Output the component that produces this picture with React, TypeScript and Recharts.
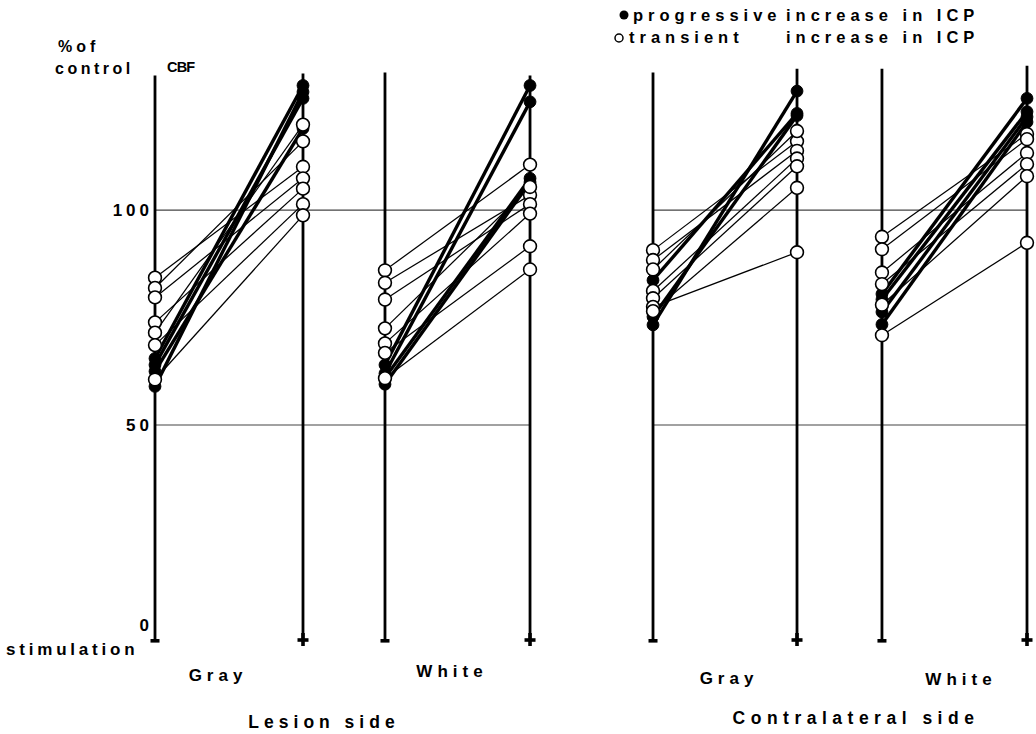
import React from 'react';
import { ComposedChart, Scatter, XAxis, YAxis, ReferenceLine } from 'recharts';

const CHART_W = 1036;
const CHART_H = 734;
const FONT = "'Liberation Sans', Arial, Helvetica, sans-serif";

// x position of each stimulation column, in units of the -/+ spacing
const columnPos = [0, 1, 1.554, 2.534, 3.365, 4.338, 4.912, 5.892];
const columnSign = ['-', '+', '-', '+', '-', '+', '-', '+'];
// top end (in % of control) of each vertical column line
const columnTop = [131.3, 131.8, 132, 131.3, 132, 132.9, 132.9, 133.6];
const yTicks = [0, 50, 100];
const gridValues = [100, 50];

// Lesion side, gray matter: CBF (% of control) without (-) and with (+) stimulation
const lgOpenOff = [84.3, 81.9, 79.7, 73.9, 71.5, 68.6, 60.6];
const lgOpenOn = [110.1, 116.0, 107.4, 105.0, 119.9, 101.4, 98.8];
const lgFillOff = [65.5, 64.0, 62.5, 59.0];
const lgFillOn = [129.0, 126.0, 119.0, 127.5];

// Lesion side, white matter
const lwOpenOff = [86.0, 83.1, 79.2, 72.5, 69.0, 66.8, 60.9];
const lwOpenOn = [110.6, 103.5, 101.4, 105.4, 99.2, 91.6, 86.2];
const lwFillOff = [64.0, 62.0, 61.0, 59.5];
const lwFillOn = [129.0, 125.2, 107.4, 106.5];

// Contralateral side, gray matter
const cgOpenOff = [90.7, 88.4, 86.2, 81.2, 79.5, 77.5, 76.5];
const cgOpenOn = [116.0, 113.8, 118.4, 112.0, 110.2, 90.2, 105.2];
const cgFillOff = [83.7, 75.2, 73.3];
const cgFillOn = [122.5, 122.0, 127.7];

// Contralateral side, white matter
const cwOpenOff = [93.8, 90.9, 85.5, 82.8, 78.0, 70.9];
const cwOpenOn = [117.7, 116.5, 113.3, 110.7, 107.9, 92.4];
const cwFillOff = [80.5, 79.2, 76.3, 73.4];
const cwFillOn = [126.0, 122.9, 121.7, 120.5];

type Pt = { x: number; y: number };

const panels = [
  { off: 0, on: 1, openOff: lgOpenOff, openOn: lgOpenOn, fillOff: lgFillOff, fillOn: lgFillOn },
  { off: 2, on: 3, openOff: lwOpenOff, openOn: lwOpenOn, fillOff: lwFillOff, fillOn: lwFillOn },
  { off: 4, on: 5, openOff: cgOpenOff, openOn: cgOpenOn, fillOff: cgFillOff, fillOn: cgFillOn },
  { off: 6, on: 7, openOff: cwOpenOff, openOn: cwOpenOn, fillOff: cwFillOff, fillOn: cwFillOn },
];

const openPairs: Pt[][] = [];
const filledPairs: Pt[][] = [];
panels.forEach((p) => {
  p.openOff.forEach((v, i) =>
    openPairs.push([
      { x: columnPos[p.off], y: v },
      { x: columnPos[p.on], y: p.openOn[i] },
    ])
  );
  p.fillOff.forEach((v, i) =>
    filledPairs.push([
      { x: columnPos[p.off], y: v },
      { x: columnPos[p.on], y: p.fillOn[i] },
    ])
  );
});
const openPoints = openPairs.flat();
const filledPoints = filledPairs.flat();

const NoDot = () => <g />;
const OpenDot = (p: any) => (
  <circle cx={p.cx} cy={p.cy} r={6.4} fill="#fff" stroke="#000" strokeWidth={1.6} />
);
const FilledDot = (p: any) => (
  <circle cx={p.cx} cy={p.cy} r={5.9} fill="#000" stroke="#000" strokeWidth={1} />
);

const ValueTick = (props: any) => {
  const { x, y, payload } = props;
  const v = payload.value;
  const dy = v === 0 ? -15 : 0;
  return (
    <text
      x={x - 2}
      y={y + dy}
      dy="0.36em"
      textAnchor="end"
      fontFamily={FONT}
      fontWeight="bold"
      fontSize={17}
      letterSpacing={4}
      fill="#000"
    >
      {v}
    </text>
  );
};

const SignTick = (props: any) => {
  const { x, y, index } = props;
  const sign = columnSign[index];
  if (sign === '-') {
    return <rect x={x - 4.5} y={y - 1} width={9} height={3.6} fill="#000" />;
  }
  return (
    <g>
      <rect x={x - 5.5} y={y - 1.8} width={11} height={3.6} fill="#000" />
      <rect x={x - 1.8} y={y - 7} width={3.6} height={13} fill="#000" />
    </g>
  );
};

const txt = {
  fontFamily: FONT,
  fontWeight: 'bold' as const,
  fill: '#000',
};

export default function App() {
  return (
    <div style={{ position: 'absolute', left: 0, top: 0, width: CHART_W, height: CHART_H, background: '#fff' }}>
      <ComposedChart
        width={CHART_W}
        height={CHART_H}
        margin={{ top: 64, right: 9, bottom: 0, left: 0 }}
      >
        <XAxis
          type="number"
          dataKey="x"
          domain={[0, 5.892]}
          ticks={columnPos}
          interval={0}
          tick={<SignTick />}
          axisLine={false}
          tickLine={false}
          tickSize={0}
          tickMargin={0}
          height={94}
        />
        <YAxis
          type="number"
          dataKey="y"
          domain={[0, 134]}
          ticks={yTicks}
          interval={0}
          tick={<ValueTick />}
          axisLine={false}
          tickLine={false}
          tickSize={0}
          tickMargin={0}
          width={155}
        />
        {gridValues.map((g) => (
          <ReferenceLine
            key={'gl' + g}
            segment={[
              { x: columnPos[0], y: g },
              { x: g === 100 ? 2.57 : columnPos[3], y: g },
            ]}
            stroke="#444"
            strokeWidth={1.1}
          />
        ))}
        {gridValues.map((g) => (
          <ReferenceLine
            key={'gc' + g}
            segment={[
              { x: columnPos[4], y: g },
              { x: columnPos[7], y: g },
            ]}
            stroke="#444"
            strokeWidth={1.1}
          />
        ))}
        {columnPos.map((c, i) => (
          <ReferenceLine
            key={'col' + i}
            segment={[
              { x: c, y: 0 },
              { x: c, y: columnTop[i] },
            ]}
            stroke="#000"
            strokeWidth={2.8}
          />
        ))}
        {openPairs.map((d, i) => (
          <Scatter
            key={'ol' + i}
            data={d}
            fill="#000"
            line={{ stroke: '#000', strokeWidth: 1.25 }}
            shape={NoDot}
            isAnimationActive={false}
          />
        ))}
        {filledPairs.map((d, i) => (
          <Scatter
            key={'fl' + i}
            data={d}
            fill="#000"
            line={{ stroke: '#000', strokeWidth: 3.4 }}
            shape={NoDot}
            isAnimationActive={false}
          />
        ))}
        <Scatter data={filledPoints} fill="#000" shape={FilledDot} isAnimationActive={false} />
        <Scatter data={openPoints} fill="#fff" shape={OpenDot} isAnimationActive={false} />
      </ComposedChart>
      <svg
        width={CHART_W}
        height={CHART_H}
        style={{ position: 'absolute', left: 0, top: 0, pointerEvents: 'none' }}
      >
        <text x={58} y={52} fontSize={16} letterSpacing={4} {...txt}>%of</text>
        <text x={55} y={74} fontSize={16} letterSpacing={3.5} {...txt}>control</text>
        <text x={167} y={72} fontSize={14.5} letterSpacing={-0.8} {...txt}>CBF</text>

        <circle cx={624} cy={15} r={4.5} fill="#000" />
        <text x={633} y={21} fontSize={16.5} letterSpacing={5} {...txt}>progressive</text>
        <text x={786} y={21} fontSize={16.5} letterSpacing={5} {...txt}>increase in ICP</text>
        <circle cx={619} cy={38} r={4} fill="#fff" stroke="#000" strokeWidth={1.5} />
        <text x={629} y={43} fontSize={16.5} letterSpacing={5} {...txt}>transient</text>
        <text x={786} y={43} fontSize={16.5} letterSpacing={5} {...txt}>increase in ICP</text>

        <text x={6} y={655} fontSize={17} letterSpacing={3.8} {...txt}>stimulation</text>

        <text x={218} y={681} fontSize={17} letterSpacing={5} textAnchor="middle" {...txt}>Gray</text>
        <text x={452} y={677} fontSize={17} letterSpacing={5} textAnchor="middle" {...txt}>White</text>
        <text x={729} y={684} fontSize={17} letterSpacing={5} textAnchor="middle" {...txt}>Gray</text>
        <text x={961} y={685} fontSize={17} letterSpacing={5} textAnchor="middle" {...txt}>White</text>

        <text x={324} y={728} fontSize={17.5} letterSpacing={5} textAnchor="middle" {...txt}>Lesion side</text>
        <text x={856} y={724} fontSize={17.5} letterSpacing={5.5} textAnchor="middle" {...txt}>Contralateral side</text>
      </svg>
    </div>
  );
}
